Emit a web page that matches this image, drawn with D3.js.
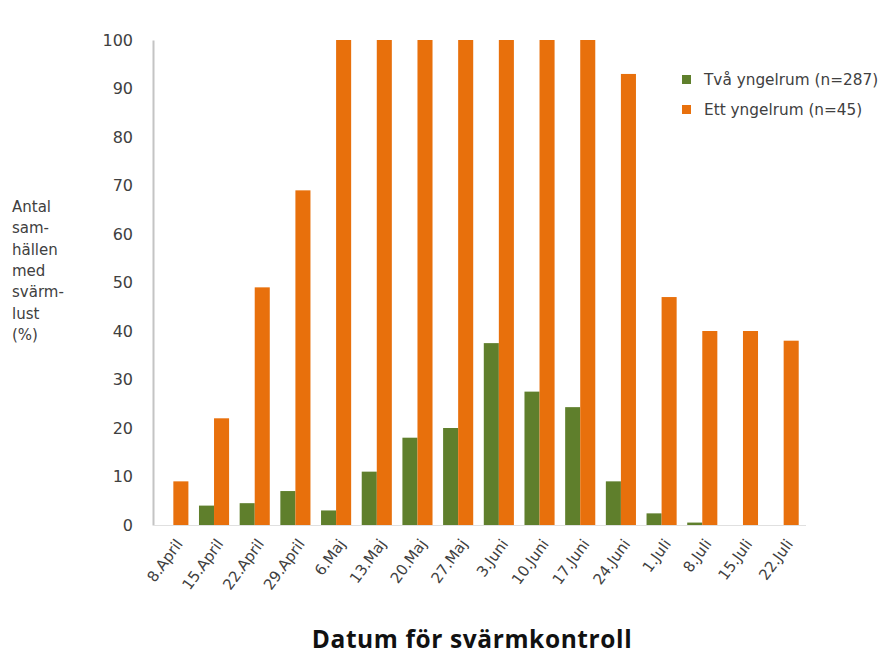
<!DOCTYPE html>
<html><head><meta charset="utf-8">
<script src="https://cdn.jsdelivr.net/npm/d3@7"></script>
<style>body{margin:0;background:#fff}svg{display:block}text{font-family:"DejaVu Sans",sans-serif}</style>
</head><body><svg id="c" width="885" height="659"></svg>
<script>
const categories = ["8.April","15.April","22.April","29.April","6.Maj","13.Maj","20.Maj","27.Maj","3.Juni","10.Juni","17.Juni","24.Juni","1.Juli","8.Juli","15.Juli","22.Juli"];
const seriesNames = ["Två yngelrum (n=287)","Ett yngelrum (n=45)"];
const tvaValues = [0,4,4.5,7,3,11,18,20,37.5,27.5,24.3,9,2.4,0.5,0,0];
const ettValues = [9,22,49,69,100,100,100,100,100,100,100,93,47,40,40,38];
const yTicks = [0,10,20,30,40,50,60,70,80,90,100];
const colors = ["#5f7f2c","#e8700c"];
const yLabelLines = ["Antal","sam-","hällen","med","svärm-","lust","(%)"];
const xTitle = "Datum för svärmkontroll";

const svg = d3.select("#c");
const x = d3.scaleBand().domain(categories).range([153,804]).paddingInner(0.26).paddingOuter(0.13);
const x1 = d3.scaleBand().domain([0,1]).range([0,x.bandwidth()]);
const y = d3.scaleLinear().domain([0,100]).range([525,40]);

// y axis
const ya = svg.append("g").attr("transform","translate(153,0)")
  .call(d3.axisLeft(y).tickValues(yTicks).tickSize(0).tickPadding(20));
ya.select(".domain").attr("stroke","#c4c4c4").attr("stroke-width",2);
ya.selectAll("text").attr("font-size",16).attr("fill","#404040");

// x axis
const xa = svg.append("g").attr("transform","translate(0,525)")
  .call(d3.axisBottom(x).tickSize(0).tickPadding(0));
xa.select(".domain").attr("stroke","#e0e0e0").attr("d","M153,0.5H806");
xa.selectAll("text").attr("font-size",15).attr("fill","#404040")
  .attr("text-anchor","end").attr("dy",0)
  .attr("transform","translate(10,19) rotate(-54)");

const data = categories.map((c,i)=>({c, v:[tvaValues[i],ettValues[i]]}));
const g = svg.append("g");
data.forEach(d=>{
  d.v.forEach((v,j)=>{
    g.append("rect").attr("x",x(d.c)+x1(j)).attr("width",x1.bandwidth())
      .attr("y",y(v)).attr("height",y(0)-y(v)).attr("fill",colors[j]);
  });
});

// y label
const yl = svg.append("text").attr("x",12).attr("y",212).attr("font-size",15).attr("fill","#404040");
yLabelLines.forEach((l,i)=>yl.append("tspan").attr("x",12).attr("y",212+i*21.3).text(l));

// legend
seriesNames.forEach((n,i)=>{
  svg.append("rect").attr("x",682).attr("y",75+i*30).attr("width",9).attr("height",9).attr("fill",colors[i]);
  svg.append("text").attr("x",704).attr("y",85+i*30).attr("font-size",15.3).attr("fill","#404040").text(n);
});

svg.append("text").attr("x",472).attr("y",648).attr("text-anchor","middle")
  .style("font-family","'Open Sans',sans-serif")
  .attr("font-size",24.5).attr("letter-spacing",0.6).attr("font-weight","bold").attr("fill","#111").text(xTitle);
</script></body></html>
